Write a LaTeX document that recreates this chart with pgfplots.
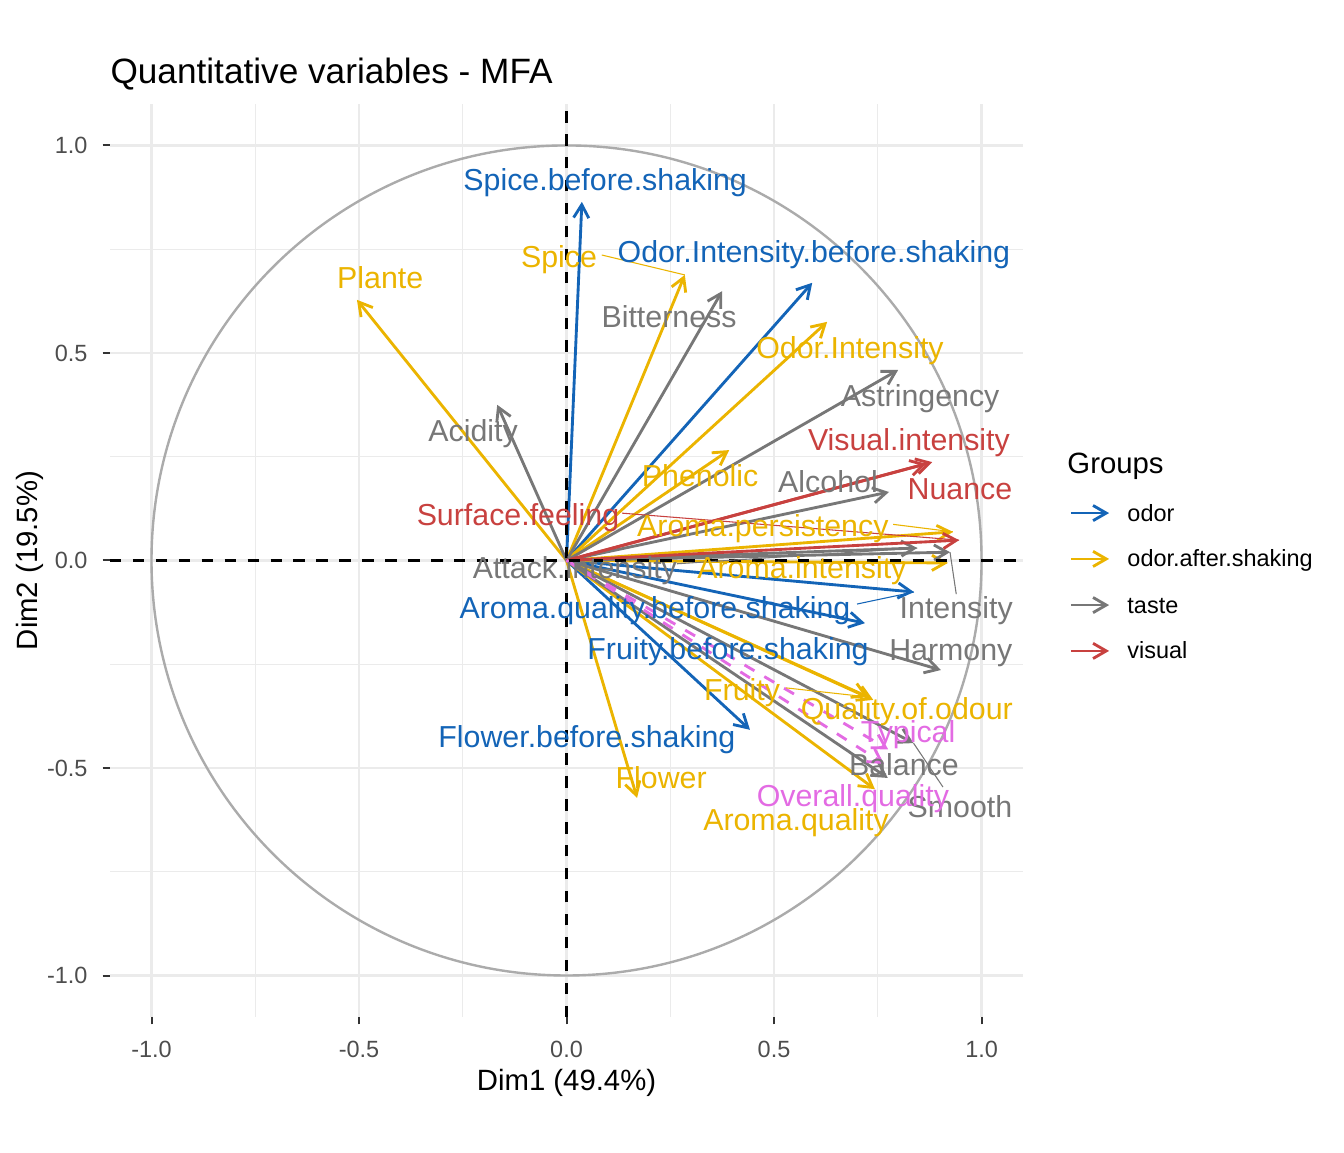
\documentclass[border=0pt]{standalone}
\usepackage{fontspec}
\setmainfont{Liberation Sans}
\usepackage{pgfplots}
\pgfplotsset{compat=1.18}
\usetikzlibrary{arrows.meta}
\definecolor{odorc}{HTML}{1364B7}
\definecolor{afterc}{HTML}{EBB400}
\definecolor{tastec}{HTML}{777777}
\definecolor{visc}{HTML}{C8413F}
\definecolor{supc}{HTML}{E36BE3}
\definecolor{gridc}{HTML}{EBEBEB}
\definecolor{tickc}{HTML}{4D4D4D}
\definecolor{circc}{HTML}{ABABAB}
\tikzset{
  arr/.style={line width=1.07pt, -{Straight Barb[angle=60:5.7pt]}},
  lab/.style={font=\fontsize{11.38}{13}\selectfont, inner sep=0pt, text height=8.15pt, text depth=0pt, anchor=center},
  con/.style={line width=0.4pt},
}
\begin{document}
\begin{tikzpicture}
\path[use as bounding box] (0,0) rectangle (504pt,432pt);
\begin{axis}[
  at={(41.25pt,50.625pt)}, anchor=south west,
  scale only axis, width=342.4pt, height=342.4pt,
  xmin=-1.1, xmax=1.1, ymin=-1.1, ymax=1.1,
  clip=false,
  xtick={-1,-0.5,0,0.5,1}, ytick={-1,-0.5,0,0.5,1},
  xticklabels={-1.0,-0.5,0.0,0.5,1.0}, yticklabels={-1.0,-0.5,0.0,0.5,1.0},
  minor xtick={-0.75,-0.25,0.25,0.75}, minor ytick={-0.75,-0.25,0.25,0.75},
  grid=both,
  major grid style={gridc, line width=0.8pt},
  minor grid style={gridc, line width=0.4pt},
  tick align=outside, xtick pos=bottom, ytick pos=left,
  major tick length=2.75pt, minor tick length=0pt,
  tick style={black!80, line width=0.75pt},
  separate axis lines,
  axis line style={draw=none},
  ticklabel style={font=\fontsize{8.8}{10}\selectfont, text=tickc, inner sep=0pt, text height=6.3pt, text depth=0pt},
  xticklabel style={anchor=north, yshift=-5.75pt},
  yticklabel style={anchor=east, xshift=-5.5pt},
  xlabel={Dim1 (49.4\%)}, ylabel={Dim2 (19.5\%)},
  xlabel style={at={(axis description cs:0.5,0)}, anchor=center, yshift=-23.6pt, font=\fontsize{11}{13}\selectfont, inner sep=0pt, text height=7.9pt, text depth=0pt},
  ylabel style={at={([xshift=-31.1pt]axis description cs:0,0.5)}, anchor=center, font=\fontsize{11}{13}\selectfont, inner sep=0pt, text height=7.9pt, text depth=0pt},
]
% correlation circle
\draw[circc, line width=0.9pt] (axis cs:0,0) ellipse [x radius=1, y radius=1];

% odor
\addplot[odorc, arr] coordinates {(0,0) (0.037,0.864)};
\addplot[odorc, arr] coordinates {(0,0) (0.592,0.669)};
\addplot[odorc, arr] coordinates {(0,0) (0.837,-0.076)};
\addplot[odorc, arr] coordinates {(0,0) (0.719,-0.151)};
\addplot[odorc, arr] coordinates {(0,0) (0.442,-0.408)};
% odor.after.shaking
\addplot[afterc, arr] coordinates {(0,0) (-0.505,0.628)};
\addplot[afterc, arr] coordinates {(0,0) (0.285,0.688)};
\addplot[afterc, arr] coordinates {(0,0) (0.628,0.575)};
\addplot[afterc, arr] coordinates {(0,0) (0.392,0.266)};
\addplot[afterc, arr] coordinates {(0,0) (0.931,0.069)};
\addplot[afterc, arr] coordinates {(0,0) (0.919,-0.006)};
\addplot[afterc, arr] coordinates {(0,0) (0.727,-0.329)};
\addplot[afterc, arr] coordinates {(0,0) (0.739,-0.336)};
\addplot[afterc, arr] coordinates {(0,0) (0.170,-0.572)};
\addplot[afterc, arr] coordinates {(0,0) (0.743,-0.551)};
% taste
\addplot[tastec, arr] coordinates {(0,0) (0.375,0.649)};
\addplot[tastec, arr] coordinates {(0,0) (0.799,0.459)};
\addplot[tastec, arr] coordinates {(0,0) (-0.167,0.375)};
\addplot[tastec, arr] coordinates {(0,0) (0.777,0.165)};
\addplot[tastec, arr] coordinates {(0,0) (0.845,0.030)};
\addplot[tastec, arr] coordinates {(0,0) (0.924,0.020)};
\addplot[tastec, arr] coordinates {(0,0) (0.902,-0.264)};
\addplot[tastec, arr] coordinates {(0,0) (0.836,-0.440)};
\addplot[tastec, arr] coordinates {(0,0) (0.774,-0.524)};
% visual
\addplot[visc, arr] coordinates {(0,0) (0.881,0.237)};
\addplot[visc, arr] coordinates {(0,0) (0.867,0.233)};
\addplot[visc, arr] coordinates {(0,0) (0.946,0.049)};
% supplementary (overall)
\addplot[supc, arr, dash pattern=on 4.3pt off 4.3pt] coordinates {(0,0) (0.775,-0.455)};
\addplot[supc, arr, dash pattern=on 4.3pt off 4.3pt] coordinates {(0,0) (0.765,-0.490)};

% reference lines
\addplot[black, line width=0.9pt, dash pattern=on 4.3pt off 4.3pt] coordinates {(-1.1,0) (1.1,0)};
\addplot[black, line width=0.9pt, dash pattern=on 4.3pt off 4.3pt] coordinates {(0,-1.1) (0,1.1)};

% connectors
\draw[afterc, con] (axis cs:0.085,0.736) -- (axis cs:0.285,0.688);
\draw[afterc, con] (axis cs:0.787,0.087) -- (axis cs:0.931,0.069);
\draw[visc, con] (axis cs:0.134,0.114) -- (axis cs:0.946,0.049);
\draw[tastec, con] (axis cs:0.266,-0.008) -- (axis cs:0.845,0.030);
\draw[odorc, con] (axis cs:0.700,-0.105) -- (axis cs:0.837,-0.076);
\draw[afterc, con] (axis cs:0.529,-0.307) -- (axis cs:0.727,-0.329);
\draw[tastec, con] (axis cs:0.924,0.020) -- (axis cs:0.939,-0.081);
\draw[tastec, con] (axis cs:0.836,-0.440) -- (axis cs:0.907,-0.546);

% labels
\node[lab, text=odorc] at (axis cs:0.093,0.917) {Spice.before.shaking};
\node[lab, text=odorc] at (axis cs:0.596,0.743) {Odor.Intensity.before.shaking};
\node[lab, text=odorc] at (axis cs:0.213,-0.114) {Aroma.quality.before.shaking};
\node[lab, text=odorc] at (axis cs:0.389,-0.213) {Fruity.before.shaking};
\node[lab, text=odorc] at (axis cs:0.049,-0.425) {Flower.before.shaking};
\node[lab, text=afterc] at (axis cs:-0.449,0.681) {Plante};
\node[lab, text=afterc] at (axis cs:-0.018,0.731) {Spice};
\node[lab, text=afterc] at (axis cs:0.683,0.512) {Odor.Intensity};
\node[lab, text=afterc] at (axis cs:0.322,0.204) {Phenolic};
\node[lab, text=afterc] at (axis cs:0.473,0.083) {Aroma.persistency};
\node[lab, text=afterc] at (axis cs:0.567,-0.018) {Aroma.intensity};
\node[lab, text=afterc] at (axis cs:0.423,-0.312) {Fruity};
\node[lab, text=afterc] at (axis cs:0.820,-0.358) {Quality.of.odour};
\node[lab, text=afterc] at (axis cs:0.228,-0.524) {Flower};
\node[lab, text=afterc] at (axis cs:0.553,-0.625) {Aroma.quality};
\node[lab, text=tastec] at (axis cs:0.247,0.587) {Bitterness};
\node[lab, text=tastec] at (axis cs:0.852,0.396) {Astringency};
\node[lab, text=tastec] at (axis cs:-0.225,0.314) {Acidity};
\node[lab, text=tastec] at (axis cs:0.630,0.189) {Alcohol};
\node[lab, text=tastec] at (axis cs:0.020,-0.018) {Attack.intensity};
\node[lab, text=tastec] at (axis cs:0.939,-0.114) {Intensity};
\node[lab, text=tastec] at (axis cs:0.926,-0.216) {Harmony};
\node[lab, text=tastec] at (axis cs:0.813,-0.493) {Balance};
\node[lab, text=tastec] at (axis cs:0.948,-0.592) {Smooth};
\node[lab, text=visc] at (axis cs:0.825,0.290) {Visual.intensity};
\node[lab, text=visc] at (axis cs:0.948,0.172) {Nuance};
\node[lab, text=visc] at (axis cs:-0.117,0.110) {Surface.feeling};
\node[lab, text=supc] at (axis cs:0.823,-0.413) {Typical};
\node[lab, text=supc] at (axis cs:0.690,-0.567) {Overall.quality};
\end{axis}

% title
\node[anchor=base west, inner sep=0pt, font=\fontsize{13.2}{15}\selectfont] at (41.25pt,400.5pt) {Quantitative variables - MFA};

% legend
\node[anchor=base west, inner sep=0pt, font=\fontsize{11}{13}\selectfont] at (400.1pt,254.6pt) {Groups};
\draw[odorc, arr] (401.6pt,239.6pt) -- (415.9pt,239.6pt);
\draw[afterc, arr] (401.6pt,222.4pt) -- (415.9pt,222.4pt);
\draw[tastec, arr] (401.6pt,205.1pt) -- (415.9pt,205.1pt);
\draw[visc, arr] (401.6pt,187.9pt) -- (415.9pt,187.9pt);
\begin{scope}[every node/.style={anchor=base west, inner sep=0pt, font=\fontsize{8.8}{10}\selectfont}]
\node at (422.6pt,236.6pt) {odor};
\node at (422.6pt,219.4pt) {odor.after.shaking};
\node at (422.6pt,202.1pt) {taste};
\node at (422.6pt,184.9pt) {visual};
\end{scope}
\end{tikzpicture}
\end{document}
